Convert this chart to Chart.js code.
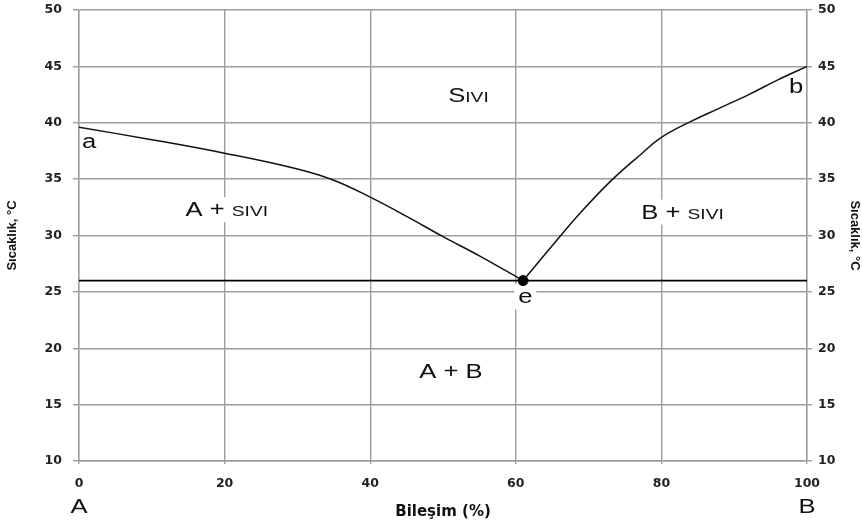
<!DOCTYPE html>
<html>
<head>
<meta charset="utf-8">
<script src="https://cdn.jsdelivr.net/npm/chart.js@4.4.1/dist/chart.umd.min.js"></script>
<style>
  html, body { margin: 0; padding: 0; background: #fff; }
  #wrap { width: 862px; height: 524px; }
</style>
</head>
<body>
<div id="wrap"><canvas id="phaseChart" width="862" height="524"></canvas></div>
<script>
// liquidus from pure A down to the eutectic
const compA = [0, 10, 20, 30, 35, 40, 45, 50, 55, 61];
const tempA = [39.6, 38.5, 37.3, 35.9, 34.9, 33.4, 31.7, 29.9, 28.2, 26.0];
// liquidus from the eutectic up to pure B
const compB = [61, 65, 69, 73, 77, 80, 84, 88, 92, 96, 100];
const tempB = [26.0, 29.1, 32.1, 34.8, 37.1, 38.7, 40.1, 41.3, 42.5, 43.8, 45.0];
// eutectic point
const eutecticComp = 61;
const eutecticTemp = 26;
const compRange = [0, 100];
// axis ticks
const xTicks = [0, 20, 40, 60, 80, 100];
const yTicks = [10, 15, 20, 25, 30, 35, 40, 45, 50];

// text labels inside the plot (x = composition, y = baseline temperature)
const regionLabels = [
  { text: 'Sıvı', x: 53.5, y: 41.8, caps: true, box: true },
  { text: 'A + sıvı', x: 20.3, y: 31.7, caps: true, box: true },
  { text: 'B + sıvı', x: 82.9, y: 31.5, caps: true, box: true },
  { text: 'A + B', x: 51.1, y: 17.4, caps: true, box: true },
  { text: 'a', x: 1.4, y: 37.8 },
  { text: 'b', x: 98.5, y: 42.6 },
  { text: 'e', x: 61.3, y: 24.0, box: true }
];
const endLabels = [['A', 0], ['B', 100]];

const gridGray = '#9d9d9d';
const stretch = 1.28;   // the reference is drawn wider than tall

// split into big / small-cap parts
function capParts(label) {
  if (!label.caps) return [[label.text, 20]];
  const parts = [];
  for (const ch of label.text) {
    const small = ch !== ch.toUpperCase();
    const size = small ? 15 : 20;
    const txt = small ? ch.toUpperCase() : ch;
    if (parts.length && parts[parts.length - 1][1] === size) parts[parts.length - 1][0] += txt;
    else parts.push([txt, size]);
  }
  return parts;
}

function drawStretched(ctx, parts, px, py, box) {
  ctx.save();
  ctx.translate(px, py);
  ctx.scale(stretch, 1);
  let w = 0;
  parts.forEach(p => { ctx.font = p[1] + 'px "Liberation Sans", Arial'; w += ctx.measureText(p[0]).width; });
  if (box) {
    ctx.fillStyle = '#fff';
    ctx.fillRect(-w / 2 - 3, -19, w + 6, 25);
  }
  ctx.fillStyle = '#111';
  ctx.textBaseline = 'alphabetic';
  ctx.textAlign = 'left';
  let cx = -w / 2;
  parts.forEach(p => {
    ctx.font = p[1] + 'px "Liberation Sans", Arial';
    ctx.fillText(p[0], cx, 0);
    cx += ctx.measureText(p[0]).width;
  });
  ctx.restore();
}

const labelPlugin = {
  id: 'phaseLabels',
  beforeDatasetsDraw(chart) {
    const { ctx, scales: { x, y } } = chart;
    regionLabels.forEach(l => {
      drawStretched(ctx, capParts(l), x.getPixelForValue(l.x), y.getPixelForValue(l.y), l.box);
    });
  },
  afterDraw(chart) {
    const { ctx, scales: { x } } = chart;
    endLabels.forEach(([t, v]) => {
      drawStretched(ctx, [[t, 20]], x.getPixelForValue(v), 513, false);
    });
  }
};

const tickFont = { family: '"DejaVu Sans"', weight: 'bold', size: 12.5 };

// fixed axis widths, no extra room for the end labels
function fixY(w) {
  return s => { s.width = w; s.paddingTop = 0; s.paddingBottom = 0; };
}

const ctx = document.getElementById('phaseChart');
new Chart(ctx, {
  type: 'line',
  data: {
    datasets: [
      {
        data: compA.map((c, i) => ({ x: c, y: tempA[i] })),
        borderColor: '#111', borderWidth: 1.5, pointRadius: 0,
        tension: 0.4, yAxisID: 'y'
      },
      {
        data: compB.map((c, i) => ({ x: c, y: tempB[i] })),
        borderColor: '#111', borderWidth: 1.5, pointRadius: 0,
        tension: 0.4, yAxisID: 'y'
      },
      {
        data: compRange.map(c => ({ x: c, y: eutecticTemp })),
        borderColor: '#000', borderWidth: 1.6, pointRadius: 0, yAxisID: 'y'
      },
      {
        data: [{ x: eutecticComp, y: eutecticTemp }],
        showLine: false, pointRadius: 5, pointBackgroundColor: '#000',
        pointBorderColor: '#000', yAxisID: 'y'
      }
    ]
  },
  options: {
    responsive: false,
    animation: false,
    devicePixelRatio: 1,
    layout: { padding: { top: 10, left: 0, right: 0, bottom: 0 } },
    plugins: { legend: { display: false }, tooltip: { enabled: false } },
    scales: {
      x: {
        type: 'linear', min: 0, max: 100,
        afterBuildTicks: s => { s.ticks = xTicks.map(v => ({ value: v })); },
        afterFit: s => { s.height = 63; s.paddingLeft = 0; s.paddingRight = 0; },
        grid: { color: gridGray, lineWidth: 1.4, tickLength: 3, tickColor: gridGray },
        border: { color: gridGray, width: 1.4 },
        ticks: { color: '#222', padding: 12, font: tickFont },
        title: { display: true, text: 'Bileşim (%)', color: '#111', padding: { top: 0, bottom: 3 },
                 font: { family: '"DejaVu Sans"', weight: 'bold', size: 15 } }
      },
      y: {
        position: 'left', min: 10, max: 50,
        afterBuildTicks: s => { s.ticks = yTicks.map(v => ({ value: v })); },
        afterFit: fixY(79),
        grid: { color: gridGray, lineWidth: 1.4, tickLength: 6, tickColor: gridGray },
        border: { color: gridGray, width: 1.4 },
        ticks: { color: '#222', padding: 11, font: tickFont },
        title: { display: true, text: 'Sıcaklık, °C', color: '#111', padding: { top: 5, bottom: 0 },
                 font: { family: '"Liberation Sans", Arial', weight: 'bold', size: 13 } }
      },
      y2: {
        position: 'right', min: 10, max: 50,
        afterBuildTicks: s => { s.ticks = yTicks.map(v => ({ value: v })); },
        afterFit: fixY(55),
        grid: { drawOnChartArea: false, tickLength: 5, tickColor: gridGray, lineWidth: 1.4 },
        border: { color: gridGray, width: 1.4 },
        ticks: { color: '#222', padding: 6, font: tickFont },
        title: { display: true, text: 'Sıcaklık, °C', color: '#111', padding: { top: 0, bottom: 0 },
                 font: { family: '"Liberation Sans", Arial', weight: 'bold', size: 13 } }
      }
    }
  },
  plugins: [labelPlugin]
});
</script>
</body>
</html>
